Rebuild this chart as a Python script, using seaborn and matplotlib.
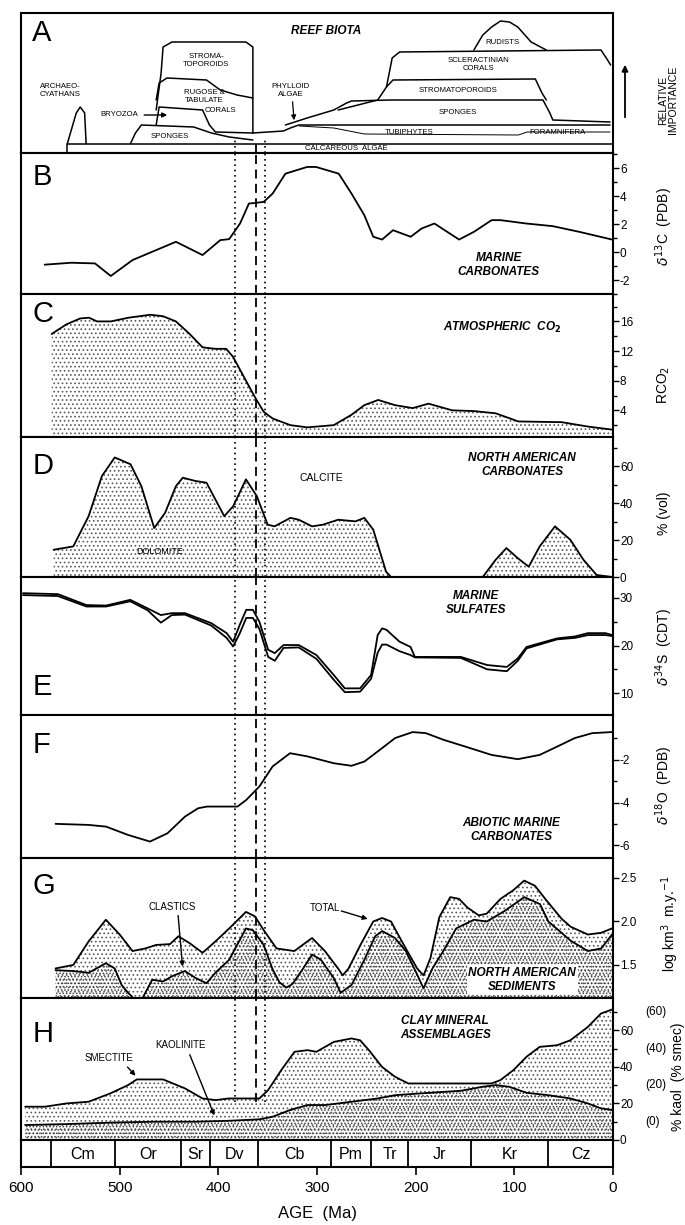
import numpy as np
import pandas as pd
import matplotlib
matplotlib.use("Agg")
import matplotlib.pyplot as plt
import seaborn as sns
from matplotlib.ticker import MultipleLocator, FixedLocator

# ---------------- DATA ----------------
# Panel A: reef biota boundaries (age Ma, relative importance)
alg_age = [553, 553, 0];                       alg_val = [0, 9.5, 9.5]
arch_age = [553, 544, 540, 535.5, 534];        arch_val = [9.5, 40, 46, 40, 9.5]
spg1_age = [489, 484, 478, 425, 407, 389, 365]; spg1_val = [9.5, 20, 28, 26, 20, 16, 13]
bry_age = [463, 460, 416, 409, 403, 365];      bry_val = [28, 46, 43, 28, 21, 20]
rug_age = [463, 460, 452, 412, 398, 381, 365]; rug_val = [53, 70, 75, 73, 63, 58, 55]
str1_age = [463, 458, 456, 447, 372, 365, 365]; str1_val = [43, 80, 106, 111, 111, 106, 20]
t1_age = [365, 334, 327, 318.5, 301, 3];       t1_val = [20, 22, 25, 28, 28, 28]
t2_age = [318, 283, 252, 96, 87, 3];           t2_val = [27, 25, 19, 18, 21, 21]
spg2_age = [332, 310, 283, 270, 265, 225, 71, 64, 61, 3]
spg2_val = [28, 35, 43, 50, 52, 53, 53, 40, 33, 31]
str2_age = [278.5, 238.5, 229.6, 223, 78.7, 72, 67.6]
str2_val = [43, 53, 66, 73, 74, 60, 53]
scl_age = [229.6, 223.8, 216.3, 12.2, 5.5, 2.4]; scl_val = [66, 95, 101, 103, 93, 88]
rud_age = [141, 132, 123, 114, 105, 96.5, 83, 67.6]
rud_val = [103, 118, 126, 132, 131, 126, 111, 103]

# Panel B: d13C marine carbonates
b_age = [576, 549, 525, 509, 487, 443, 416, 398, 389, 378, 369, 363, 354, 345, 332, 310, 301,
         278, 265, 252, 243, 234, 223, 205, 194, 181, 156, 141, 123, 114, 88, 61, 34, 1]
b_val = [-0.9, -0.76, -0.81, -1.71, -0.57, 0.74, -0.21, 0.86, 0.93, 2.05, 3.48, 3.52, 3.6, 4.19,
         5.62, 6.1, 6.1, 5.62, 4.19, 2.64, 1.1, 0.9, 1.57, 1.1, 1.69, 2.05, 0.9, 1.45, 2.29, 2.29,
         2.05, 1.86, 1.45, 0.9]

# Panel C: RCO2
c_age = [569, 554, 540, 531, 523, 509, 491, 469, 456, 443, 429, 416, 403, 392, 385, 372, 363, 354,
         345, 327, 310, 283, 265, 252, 238, 221, 203, 187, 163, 141, 119, 96, 52, 25, 1]
c_val = [14.3, 15.6, 16.4, 16.5, 16.0, 16.0, 16.5, 16.9, 16.7, 16.0, 14.3, 12.5, 12.3, 12.3, 11.2,
         8.0, 5.8, 3.8, 2.9, 2.0, 1.7, 2.0, 3.4, 4.7, 5.4, 4.7, 4.3, 4.9, 4.0, 3.9, 3.6, 2.5, 2.4,
         1.8, 1.4]

# Panel D: dolomite % (vol)
d_age = [567, 547, 531.5, 518, 505, 489, 478, 465, 454, 443, 436, 423, 412, 403, 394, 385, 372,
         361, 350, 343, 327, 318.5, 305, 294, 278.5, 261, 252, 243, 230, 225, 132, 119, 108, 96.5,
         85.4, 74.3, 58.8, 43.2, 29.9, 16.6, 1]
d_val = [14.8, 16.6, 33, 54.8, 64.9, 61.2, 49.3, 26.6, 34.8, 49.3, 53.9, 52.1, 51.2, 42.1, 33,
         38.4, 53, 43.9, 28.4, 27.5, 32.1, 31.1, 27.5, 28.4, 31.1, 30.2, 32.1, 25.7, 2.9, 0, 0, 9.3,
         15.7, 10.2, 5.6, 16.6, 27.5, 20.2, 9.3, 1.1, 0]

# Panel E: d34S marine sulfates (upper and lower traces)
e_age = [598, 562.6, 533.7, 513.7, 489.3, 471.6, 458.2, 447.2, 433.8, 407.2, 391.6, 385, 378.4,
         371.7, 365, 358.4, 349.5, 342.8, 333.9, 318.5, 300.6, 283, 271.8, 256.3, 245.2, 238.5, 234,
         229.6, 216.3, 205.2, 200.8, 154.2, 127.6, 107.6, 96.5, 87.6, 56.6, 38.7, 25.5, 7.6, 1]
e_hi = [31, 30.8, 28.5, 28.4, 29.6, 27.8, 26.4, 26.8, 26.8, 24.7, 22.6, 20.8, 24.3, 27.5, 27.5,
        25, 19.1, 18.4, 20.1, 20.1, 18, 13.8, 11, 11, 13.8, 22.2, 23.6, 23.3, 20.8, 19.7, 17.6,
        17.6, 15.9, 15.5, 17.3, 19.7, 21.5, 21.9, 22.6, 22.6, 22.2]
e_lo = [30.6, 30.4, 28.2, 28.2, 29.3, 27.4, 24.8, 26.4, 26.5, 24.2, 21.6, 19.8, 22.5, 25.8, 25.8,
        23.5, 17.6, 16.8, 19.5, 19.6, 17.2, 12.8, 10.2, 10.3, 13, 18.5, 20.2, 20.2, 18.8, 18, 17.5,
        17.4, 15, 14.6, 16.8, 19.4, 21.3, 21.6, 22.2, 22.2, 22]

# Panel F: d18O abiotic marine carbonates
f_age = [565, 531.5, 513.7, 491.5, 469.3, 451.5, 433.8, 420.5, 411.6, 380.6, 371.7, 358.4, 345,
         327.3, 309.6, 283, 265.1, 251.9, 234, 220.8, 203, 189.7, 171.9, 149.7, 123.1, 96.5, 74.3,
         56.6, 38.7, 21, 1]
f_val = [-5.0, -5.05, -5.13, -5.52, -5.83, -5.44, -4.66, -4.27, -4.19, -4.19, -3.88, -3.25, -2.31,
         -1.69, -1.84, -2.16, -2.28, -2.08, -1.45, -0.98, -0.7, -0.75, -1.06, -1.38, -1.77, -1.97,
         -1.77, -1.38, -0.98, -0.75, -0.7]

# Panel G: North American sediments, log km3/m.y.
g_tot_age = [565, 547, 531.5, 514, 500, 487, 474, 463, 449, 440.5, 429, 416, 403, 389, 372, 363,
             354, 341, 323, 305, 292, 278, 274, 268, 256, 243, 234, 225, 212, 198.5, 192, 185, 176,
             165, 156, 147.5, 136, 128, 114, 101, 90, 79, 68, 52, 43, 25.5, 12, 1]
g_tot_val = [1.46, 1.5, 1.77, 2.02, 1.85, 1.66, 1.69, 1.73, 1.74, 1.83, 1.75, 1.64, 1.77, 1.92,
             2.11, 2.06, 1.9, 1.69, 1.66, 1.81, 1.66, 1.45, 1.38, 1.46, 1.73, 2.0, 2.04, 2.0, 1.73,
             1.46, 1.38, 1.58, 2.05, 2.28, 2.26, 2.16, 2.07, 2.09, 2.26, 2.36, 2.47, 2.41, 2.25,
             2.03, 1.94, 1.85, 1.87, 1.92]
g_cl_age = [565, 547, 531.5, 514, 505, 498, 491.5, 480, 474, 467, 456, 447, 434, 423, 412, 403,
            389, 372, 365, 354, 345, 338, 331, 325, 314, 305, 296, 283, 276, 265, 252, 241, 234,
            221, 210, 198.5, 192, 183, 172, 159, 141, 128, 110, 90, 74, 65.5, 43, 25.5, 12, 1]
g_cl_val = [1.44, 1.43, 1.41, 1.52, 1.46, 1.27, 1.18, 1.05, 1.18, 1.33, 1.31, 1.37, 1.43, 1.35,
            1.29, 1.41, 1.56, 1.92, 1.9, 1.73, 1.45, 1.3, 1.24, 1.28, 1.46, 1.62, 1.56, 1.35, 1.18,
            1.27, 1.56, 1.83, 1.89, 1.81, 1.66, 1.39, 1.23, 1.46, 1.66, 1.92, 2.02, 2.0, 2.12, 2.28,
            2.2, 2.0, 1.78, 1.66, 1.69, 1.85]

# Panel H: clay minerals (%)
h_sm_age = [595.8, 575.8, 553.7, 531.5, 509.3, 491.5, 482.6, 456, 433.8, 416, 402.8, 389.4, 358.4,
            349.5, 336.2, 322.8, 309.6, 300.6, 283, 265.1, 256.3, 247.4, 234.2, 220.8, 207.5,
            176.4, 123.1, 114.2, 100.9, 87.6, 74.3, 56.6, 43.2, 25.5, 12.2, 1]
h_sm_val = [18.2, 18.2, 20, 20.9, 25.5, 30, 33.1, 33.1, 28.2, 22.7, 21.8, 22.7, 22.7, 27.3, 38.2,
            48.2, 49.1, 48.2, 53.6, 55.5, 54.5, 49.1, 40, 34.5, 30.9, 30.9, 30.9, 32.7, 38.2, 45.5,
            50.9, 51.8, 54.5, 61.8, 69.1, 71.3]
h_ka_age = [595.8, 553.7, 509.3, 464.9, 422.7, 389.4, 358.4, 345, 327.3, 309.6, 291.7, 265.1,
            238.5, 220.8, 194.2, 154.2, 132, 118.7, 105.3, 87.6, 65.5, 43.2, 25.5, 12.2, 1]
h_ka_val = [8.2, 8.7, 9.5, 10, 10, 10.5, 11.3, 12.7, 16.4, 19.1, 19.1, 20.9, 22.7, 24.5, 25.5,
            26.9, 29.1, 30, 29.1, 25.8, 24.5, 22.7, 20, 17.3, 16.4]

# Geological periods
period_bounds = [600, 570, 505, 438, 408, 360, 286, 245, 208, 144, 66, 0]
period_names = ["", "Cm", "Or", "Sr", "Dv", "Cb", "Pm", "Tr", "Jr", "Kr", "Cz"]

# Event lines (Ma)
dotted_ages = [383, 353]
dashed_age = 362

x_ticks = [600, 500, 400, 300, 200, 100, 0]

# ---------------- STYLE ----------------
sns.set_theme(style="white")
plt.rcParams["font.family"] = ["Liberation Sans", "DejaVu Sans"]
plt.rcParams["hatch.linewidth"] = 0.7
plt.rcParams["axes.linewidth"] = 1.5
plt.rcParams["axes.unicode_minus"] = False
for k in ["text.color", "axes.labelcolor", "xtick.color", "ytick.color", "axes.edgecolor"]:
    plt.rcParams[k] = "black"

W, H = 685, 1225
fig = plt.figure(figsize=(6.85, 12.25), dpi=100)
L, R = 21, 613


def add(top, bot):
    return fig.add_axes([L / W, 1 - bot / H, (R - L) / W, (bot - top) / H])


def line(ax, x, y, lw=1.3):
    sns.lineplot(x=x, y=y, ax=ax, color="black", lw=lw, sort=False, estimator=None)


def setup(ax, ylim, major=None, minor=None):
    ax.set_xlim(600, 0)
    ax.set_ylim(*ylim)
    ax.set_xticks([])
    for s in ax.spines.values():
        s.set_color("black")
        s.set_linewidth(1.5)
    ax.yaxis.tick_right()
    if major is not None:
        ax.yaxis.set_major_locator(FixedLocator(major))
        if minor is not None:
            ax.yaxis.set_minor_locator(FixedLocator(minor))
        ax.tick_params(axis="y", which="both", right=True, left=False, direction="out",
                       length=4, width=1, labelsize=8.5, pad=1, colors="black")
        ax.tick_params(axis="y", which="minor", length=3)
    else:
        ax.set_yticks([])
    ax.set_xlabel("")
    ax.set_ylabel("")
    ax.grid(False)


def letter(ax, t, y):
    ax.text(0.019, y, t, transform=ax.transAxes, fontsize=21, va="center", ha="left")


def vlines(ax, ymin=0.0, ymax=1.0):
    for a in dotted_ages:
        ax.axvline(a, ymin=ymin, ymax=ymax, color="black", lw=1.2, ls=(0, (1, 2.2)))
    ax.axvline(dashed_age, ymin=ymin, ymax=ymax, color="black", lw=1.3, ls=(0, (5, 3)))


def stip(ax, x, y, base, dense=False):
    ax.fill_between(x, y, base, facecolor="none", edgecolor="0.35" if not dense else "0.25",
                    hatch="....." if dense else "....", linewidth=0, zorder=0)


def rlabel(text, ypx, xpx=664, size=10):
    fig.text(xpx / W, 1 - ypx / H, text, rotation=90, ha="center", va="center", fontsize=size)


bi = dict(fontweight="bold", fontstyle="italic", fontsize=8.5, ha="center", va="center")
sm = dict(fontsize=5.6, ha="center", va="center")

# ---------------- PANEL A ----------------
axA = add(13, 153)
setup(axA, (0, 140))
for xa, ya in [(alg_age, alg_val), (arch_age, arch_val), (spg1_age, spg1_val),
               (bry_age, bry_val), (rug_age, rug_val), (str1_age, str1_val),
               (t1_age, t1_val), (spg2_age, spg2_val), (str2_age, str2_val),
               (scl_age, scl_val), (rud_age, rud_val)]:
    line(axA, xa, ya, lw=1.1)
line(axA, t2_age, t2_val, lw=0.7)
vlines(axA, 0, 0.1)
letter(axA, "A", 0.86)
axA.text(291, 122, "REEF BIOTA", **bi)
axA.text(560, 62, "ARCHAEO-\nCYATHANS", **sm)
axA.text(500, 38, "BRYOZOA", **sm)
axA.annotate("", xy=(449, 38), xytext=(478, 38),
             arrowprops=dict(arrowstyle="-|>", color="black", lw=1.0, mutation_scale=7))
axA.text(449, 17, "SPONGES", **sm)
axA.text(412, 92, "STROMA-\nTOPOROIDS", **sm)
axA.text(414, 57, "RUGOSE &\nTABULATE", **sm)
axA.text(398, 42, "CORALS", **sm)
axA.text(327, 63, "PHYLLOID\nALGAE", **sm)
axA.annotate("", xy=(323, 30), xytext=(325, 54),
             arrowprops=dict(arrowstyle="-|>", color="black", lw=0.9, mutation_scale=7))
axA.text(270, 5, "CALCAREOUS  ALGAE", **sm)
axA.text(207, 21, "TUBIPHYTES", **sm)
axA.text(56, 21, "FORAMNIFERA", **sm)
axA.text(157, 40, "SPONGES", **sm)
axA.text(157, 63, "STROMATOPOROIDS", **sm)
axA.text(136, 88, "SCLERACTINIAN\nCORALS", **sm)
axA.text(112, 110, "RUDISTS", **sm)
fig.text(668 / W, 1 - 100 / H, "RELATIVE\nIMPORTANCE", rotation=90, ha="center", va="center",
         fontsize=7.5, linespacing=0.95)
fig.patches.append(matplotlib.patches.FancyArrowPatch(
    (625 / W, 1 - 120 / H), (625 / W, 1 - 62 / H), transform=fig.transFigure,
    arrowstyle="-|>", mutation_scale=9, color="black", lw=1.3))

# ---------------- PANEL B ----------------
axB = add(153, 294)
setup(axB, (-3, 7.1), [-2, 0, 2, 4, 6], [-3, -1, 1, 3, 5, 7])
line(axB, b_age, b_val)
vlines(axB)
letter(axB, "B", 0.83)
axB.text(116, -0.9, "MARINE\nCARBONATES", **bi)
rlabel(r"$\delta^{13}$C  (PDB)", 227)

# ---------------- PANEL C ----------------
axC = add(294, 437)
setup(axC, (0.4, 19.7), [4, 8, 12, 16], [2, 6, 10, 14, 18])
stip(axC, c_age, c_val, 0.4)
line(axC, c_age, c_val)
vlines(axC)
letter(axC, "C", 0.86)
axC.text(112, 15.2, r"ATMOSPHERIC  CO$_\mathbf{2}$", **bi)
rlabel(r"RCO$_2$", 385)

# ---------------- PANEL D ----------------
axD = add(437, 577)
setup(axD, (0, 76), [0, 20, 40, 60], [10, 30, 50, 70])
stip(axD, d_age, d_val, 0)
line(axD, d_age, d_val)
vlines(axD)
letter(axD, "D", 0.79)
axD.text(296, 54, "CALCITE", fontsize=7.5, ha="center", va="center")
axD.text(460, 14, "DOLOMITE", fontsize=6.5, ha="center", va="center")
axD.text(92, 61, "NORTH AMERICAN\nCARBONATES", **bi)
rlabel("% (vol)", 513)

# ---------------- PANEL E ----------------
axE = add(577, 715)
setup(axE, (5.4, 34.4), [10, 20, 30], [15, 25])
line(axE, e_age, e_hi)
line(axE, e_age, e_lo)
vlines(axE)
letter(axE, "E", 0.2)
axE.text(139, 29, "MARINE\nSULFATES", **bi)
rlabel(r"$\delta^{34}$S  (CDT)", 647)

# ---------------- PANEL F ----------------
axF = add(715, 858)
setup(axF, (-6.6, 0.1), [-2, -4, -6], [-1, -3, -5])
line(axF, f_age, f_val)
vlines(axF)
letter(axF, "F", 0.79)
axF.text(103, -5.3, "ABIOTIC MARINE\nCARBONATES", **bi)
rlabel(r"$\delta^{18}$O  (PDB)", 785)

# ---------------- PANEL G ----------------
axG = add(858, 998)
setup(axG, (1.12, 2.73), [1.5, 2.0, 2.5])
axG.yaxis.set_major_formatter(matplotlib.ticker.FormatStrFormatter("%.1f"))
stip(axG, g_tot_age, g_tot_val, 1.12)
stip(axG, g_cl_age, g_cl_val, 1.12, dense=True)
line(axG, g_tot_age, g_tot_val)
line(axG, g_cl_age, g_cl_val)
vlines(axG)
letter(axG, "G", 0.8)
axG.text(447, 2.17, "CLASTICS", fontsize=7, ha="center", va="center")
axG.annotate("", xy=(436, 1.45), xytext=(441, 2.1),
             arrowprops=dict(arrowstyle="-|>", color="black", lw=1.0, mutation_scale=7))
axG.text(292, 2.15, "TOTAL", fontsize=7, ha="center", va="center")
axG.annotate("", xy=(246, 2.02), xytext=(278, 2.13),
             arrowprops=dict(arrowstyle="-|>", color="black", lw=1.0, mutation_scale=7))
axG.text(92, 1.33, "NORTH AMERICAN\nSEDIMENTS", bbox=dict(facecolor="white", edgecolor="none",
         pad=1), **bi)
rlabel(r"log km$^3$  m.y.$^{-1}$", 923, xpx=670)

# ---------------- PANEL H ----------------
axH = add(998, 1140)
setup(axH, (0, 77.6), [0, 20, 40, 60], [10, 30, 50, 70])
stip(axH, h_sm_age, h_sm_val, 0)
stip(axH, h_ka_age, h_ka_val, 0, dense=True)
line(axH, h_sm_age, h_sm_val)
line(axH, h_ka_age, h_ka_val)
vlines(axH, 0.27, 1.0)
letter(axH, "H", 0.75)
axH.text(170, 61, "CLAY MINERAL\nASSEMBLAGES", **bi)
axH.text(511, 45, "SMECTITE", fontsize=7, ha="center", va="center")
axH.annotate("", xy=(482, 34), xytext=(494, 41),
             arrowprops=dict(arrowstyle="-|>", color="black", lw=1.0, mutation_scale=7))
axH.text(438, 52, "KAOLINITE", fontsize=7, ha="center", va="center")
axH.annotate("", xy=(403, 12), xytext=(430, 48),
             arrowprops=dict(arrowstyle="-|>", color="black", lw=1.0, mutation_scale=7))
for lvl, lab in [(70, "(60)"), (50, "(40)"), (30, "(20)"), (10, "(0)")]:
    axH.text(1.055, lvl, lab, transform=axH.get_yaxis_transform(), fontsize=8.5,
             ha="left", va="center")
rlabel("% kaol  (% smec)", 1077, xpx=678)

# ---------------- PERIOD BAR ----------------
axP = add(1140, 1167)
axP.set_xlim(600, 0)
axP.set_ylim(0, 1)
axP.set_yticks([])
for s in axP.spines.values():
    s.set_linewidth(1.5)
    s.set_color("black")
for b in period_bounds[1:-1]:
    axP.axvline(b, color="black", lw=1.3)
for i, name in enumerate(period_names):
    mid = (period_bounds[i] + period_bounds[i + 1]) / 2
    axP.text(mid, 0.45, name, fontsize=11.5, ha="center", va="center")
axP.set_xticks(x_ticks)
axP.set_xticklabels([str(t) for t in x_ticks])
axP.tick_params(axis="x", direction="out", length=6, width=1.2, labelsize=11, pad=4,
                bottom=True, colors="black")
axP.set_xlabel("AGE  (Ma)", fontsize=12, labelpad=8)
axP.grid(False)

fig.savefig("out.png", dpi=100, facecolor="white")
